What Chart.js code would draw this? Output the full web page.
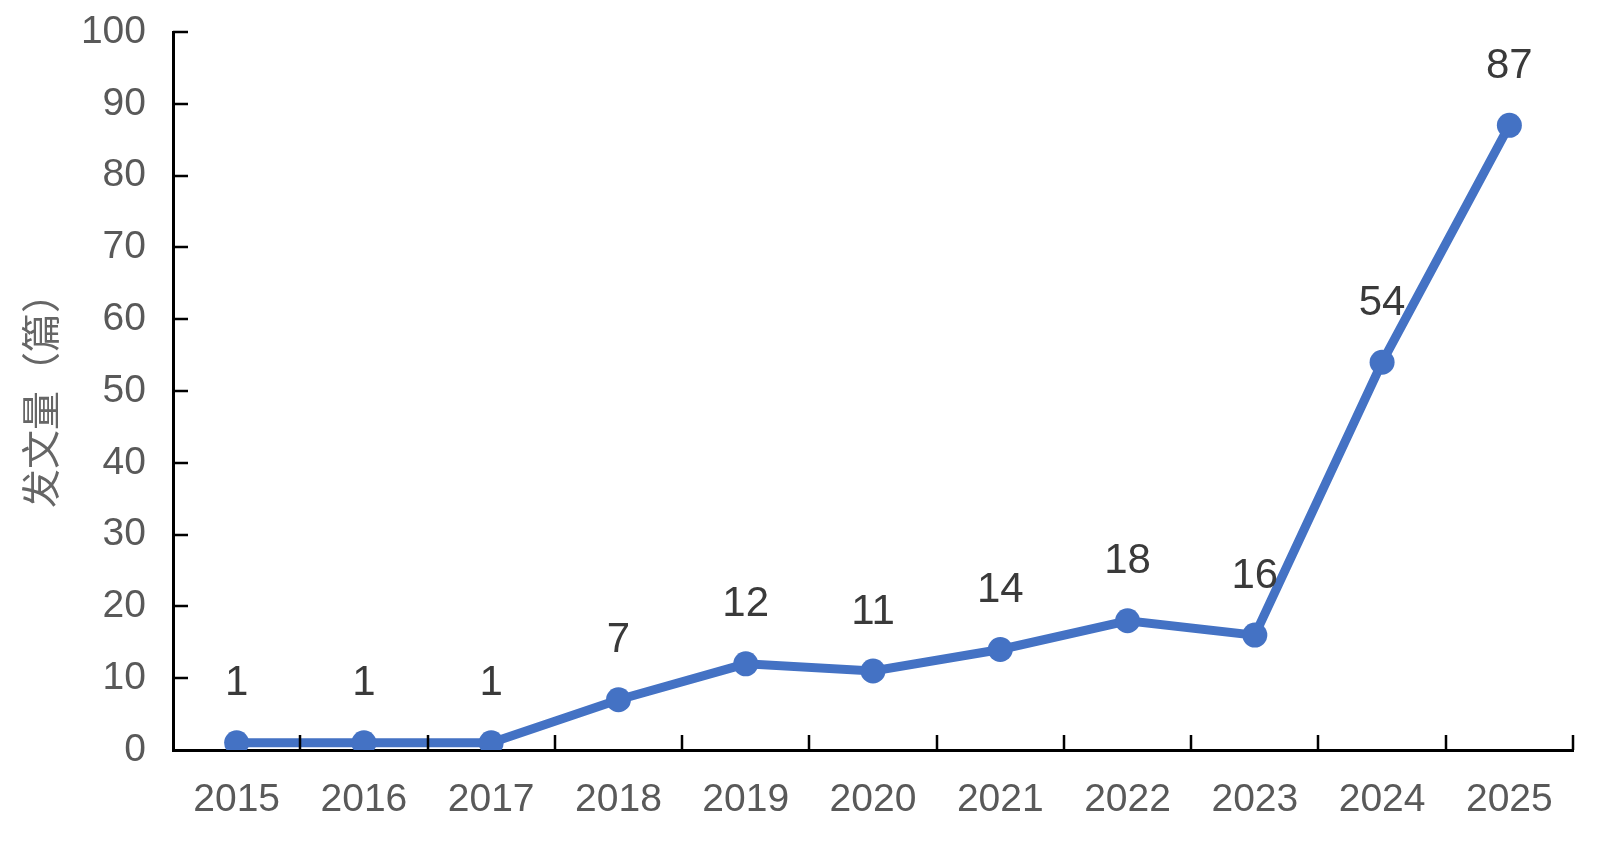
<!DOCTYPE html>
<html>
<head>
<meta charset="utf-8">
<script src="https://cdn.jsdelivr.net/npm/chart.js@4.4.1/dist/chart.umd.min.js"></script>
<style>
  html, body { margin: 0; padding: 0; background: #fff; }
  #wrap { width: 1600px; height: 848px; }
</style>
</head>
<body>
<div id="wrap"><canvas id="lineChart" width="1600" height="848"></canvas></div>
<script>
const years = ['2015', '2016', '2017', '2018', '2019', '2020', '2021', '2022', '2023', '2024', '2025'];
const papers = [1, 1, 1, 7, 12, 11, 14, 18, 16, 54, 87];
const yTicks = [0, 10, 20, 30, 40, 50, 60, 70, 80, 90, 100];
const yTitle = '发文量（篇）';

const blue = '#4472C4';
const font = '"Liberation Sans", Arial, sans-serif';

// ticks pointing into the plot, like the Excel original
const innerTicks = {
    id: 'innerTicks',
    afterDraw(chart) {
        const ctx = chart.ctx;
        const x = chart.scales.x, y = chart.scales.y;
        const len = 15;
        ctx.save();
        ctx.strokeStyle = '#000';
        ctx.lineWidth = 2.5;
        ctx.beginPath();
        yTicks.forEach(v => {
            if (v === 0) return;
            const py = Math.round(y.getPixelForValue(v));
            ctx.moveTo(x.left, py);
            ctx.lineTo(x.left + len, py);
        });
        const step = x.getPixelForValue(1) - x.getPixelForValue(0);
        for (let i = 1; i <= years.length; i++) {
            const px = Math.round(x.getPixelForValue(i) - step / 2);
            ctx.moveTo(px, y.bottom);
            ctx.lineTo(px, y.bottom - len);
        }
        ctx.stroke();
        ctx.restore();
    }
};

// value labels above each point
const valueLabels = {
    id: 'valueLabels',
    afterDatasetsDraw(chart) {
        const ctx = chart.ctx;
        const meta = chart.getDatasetMeta(0);
        ctx.save();
        ctx.font = '42px ' + font;
        ctx.fillStyle = '#3a3a3a';
        ctx.textAlign = 'center';
        ctx.textBaseline = 'middle';
        meta.data.forEach((pt, i) => {
            ctx.fillText(String(papers[i]), pt.x, pt.y - 59);
        });
        ctx.restore();
    }
};

const ctx = document.getElementById('lineChart').getContext('2d');
const myChart = new Chart(ctx, {
    type: 'line',
    data: {
        labels: years,
        datasets: [{
            label: yTitle,
            data: papers,
            borderColor: blue,
            backgroundColor: blue,
            borderWidth: 9,
            pointRadius: 12.5,
            pointHoverRadius: 12.5,
            pointBorderWidth: 0,
            tension: 0
        }]
    },
    options: {
        responsive: false,
        animation: false,
        layout: { padding: { top: 32, right: 27, bottom: 0, left: 0 } },
        plugins: {
            legend: { display: false },
            tooltip: { enabled: false }
        },
        scales: {
            x: {
                offset: true,
                grid: { display: false, drawTicks: false },
                border: { display: true, color: '#000', width: 3 },
                ticks: {
                    color: '#595959',
                    font: { family: font, size: 39 },
                    padding: 27,
                    maxRotation: 0
                },
                afterFit: s => { s.height = 98; s.paddingLeft = 0; s.paddingRight = 0; }
            },
            y: {
                min: 0,
                max: 100,
                afterBuildTicks: s => { s.ticks = yTicks.map(v => ({ value: v })); },
                grid: { display: false, drawTicks: false },
                border: { display: true, color: '#000', width: 3 },
                ticks: {
                    color: '#595959',
                    font: { family: font, size: 39 },
                    padding: 27
                },
                title: {
                    display: true,
                    text: yTitle,
                    color: '#666666',
                    font: { family: '"Noto Sans CJK SC", sans-serif', size: 39 },
                    padding: { top: 17, bottom: 0 }
                },
                afterFit: s => { s.width = 173; s.paddingTop = 0; s.paddingBottom = 0; }
            }
        }
    },
    plugins: [innerTicks, valueLabels]
});
</script>
</body>
</html>
